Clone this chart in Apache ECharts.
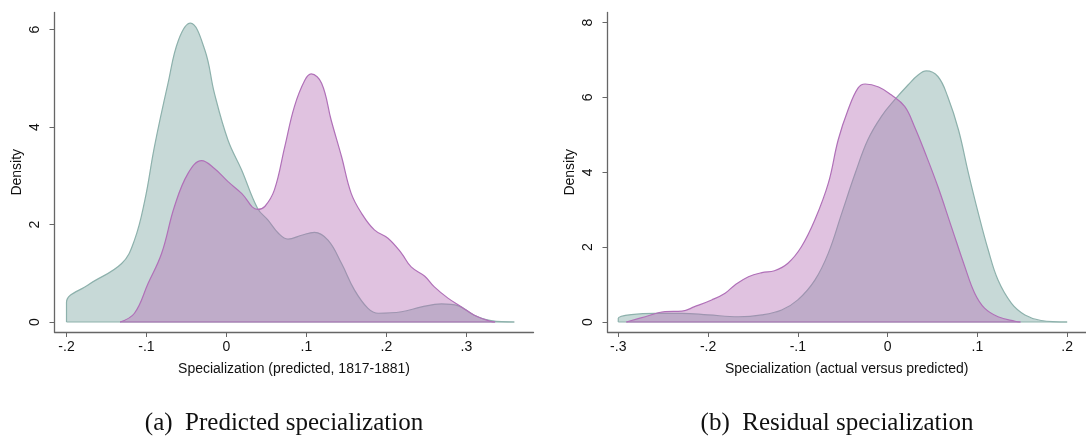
<!DOCTYPE html>
<html>
<head>
<meta charset="utf-8">
<script src="https://cdn.jsdelivr.net/npm/echarts@6/dist/echarts.min.js"></script>
<style>
html,body{margin:0;padding:0;background:#fff;}
#chart{width:1086px;height:437px;}
</style>
</head>
<body>
<div id="chart"></div>
<script>
// ---- Data ----
// Panel (a): predicted specialization, density curves [x, density]
const predTealX = [-0.2, -0.2, -0.173, -0.131, -0.115, -0.102, -0.090, -0.073, -0.060, -0.045, -0.027, -0.015, 0.002, 0.019, 0.039, 0.052, 0.065, 0.077, 0.094, 0.110, 0.127, 0.144, 0.160, 0.177, 0.190, 0.219, 0.244, 0.269, 0.290, 0.310, 0.331, 0.360];
const predTealY = [0, 0.40, 0.76, 1.20, 1.68, 2.50, 3.60, 4.90, 5.78, 6.13, 5.58, 4.69, 3.73, 3.12, 2.33, 2.09, 1.82, 1.70, 1.78, 1.84, 1.68, 1.20, 0.66, 0.28, 0.18, 0.21, 0.31, 0.37, 0.33, 0.14, 0.03, 0.0];
const predPurpleX = [-0.133, -0.115, -0.098, -0.081, -0.065, -0.048, -0.031, -0.015, 0.002, 0.019, 0.039, 0.048, 0.060, 0.073, 0.085, 0.098, 0.106, 0.119, 0.131, 0.144, 0.156, 0.169, 0.185, 0.202, 0.219, 0.231, 0.248, 0.260, 0.277, 0.294, 0.310, 0.331, 0.336];
const predPurpleY = [0, 0.18, 0.79, 1.41, 2.37, 3.05, 3.31, 3.15, 2.88, 2.64, 2.31, 2.37, 2.71, 3.60, 4.42, 4.96, 5.09, 4.90, 4.14, 3.39, 2.64, 2.23, 1.89, 1.72, 1.41, 1.13, 0.94, 0.72, 0.49, 0.31, 0.14, 0.01, 0];

// Panel (b): residual specialization
const resTealX = [-0.3, -0.3, -0.259, -0.229, -0.200, -0.166, -0.140, -0.118, -0.100, -0.081, -0.066, -0.051, -0.036, -0.022, -0.007, 0.008, 0.023, 0.034, 0.043, 0.056, 0.067, 0.079, 0.090, 0.101, 0.112, 0.123, 0.138, 0.153, 0.171, 0.200];
const resTealY = [0, 0.10, 0.23, 0.23, 0.19, 0.14, 0.19, 0.32, 0.59, 1.12, 1.84, 2.91, 3.98, 4.87, 5.49, 5.94, 6.34, 6.60, 6.71, 6.56, 6.02, 5.13, 3.98, 2.91, 1.93, 1.12, 0.50, 0.19, 0.04, 0];
const resPurpleX = [-0.291, -0.270, -0.248, -0.229, -0.215, -0.196, -0.181, -0.170, -0.155, -0.140, -0.126, -0.111, -0.096, -0.081, -0.066, -0.055, -0.044, -0.033, -0.025, -0.010, 0.004, 0.019, 0.030, 0.042, 0.056, 0.071, 0.086, 0.097, 0.108, 0.123, 0.142, 0.148];
const resPurpleY = [0, 0.14, 0.28, 0.29, 0.41, 0.59, 0.77, 0.99, 1.21, 1.32, 1.37, 1.57, 2.01, 2.73, 3.71, 4.87, 5.67, 6.25, 6.36, 6.28, 6.07, 5.76, 5.22, 4.51, 3.62, 2.55, 1.48, 0.77, 0.37, 0.14, 0.02, 0];

// Tick values and labels
const predXTicks = [-0.2, -0.1, 0, 0.1, 0.2, 0.3];
const predXLabels = ['-.2', '-.1', '0', '.1', '.2', '.3'];
const predYTicks = [0, 2, 4, 6];
const resXTicks = [-0.3, -0.2, -0.1, 0, 0.1, 0.2];
const resXLabels = ['-.3', '-.2', '-.1', '0', '.1', '.2'];
const resYTicks = [0, 2, 4, 6, 8];

const xTitleA = 'Specialization (predicted, 1817-1881)';
const xTitleB = 'Specialization (actual versus predicted)';
const yTitle = 'Density';
const captionA = '(a)  Predicted specialization';
const captionB = '(b)  Residual specialization';

// ---- Styling ----
const TEAL_LINE = '#8db1ac';
const TEAL_FILL = 'rgba(130,170,166,0.45)';
const PURP_LINE = '#b070b8';
const PURP_FILL = 'rgba(180,110,180,0.42)';
const AXIS_COL = '#666';
const FONT = 'Liberation Sans, Arial, sans-serif';

function pairs(xs, ys) { return xs.map((x, i) => [x, ys[i]]); }
function fmt(ticks, labels) {
  return v => { const i = ticks.findIndex(t => Math.abs(t - v) < 1e-9); return i >= 0 ? labels[i] : ''; };
}

function xAxisCfg(idx, min, max, ticks, labels, name) {
  return {
    type: 'value', gridIndex: idx, min: min, max: max,
    splitLine: { show: false },
    axisLine: { onZero: false, lineStyle: { color: AXIS_COL, width: 1.3 } },
    axisTick: { customValues: ticks, length: 5, lineStyle: { color: AXIS_COL } },
    axisLabel: { customValues: ticks, formatter: fmt(ticks, labels), color: '#111', fontFamily: FONT, fontSize: 14, margin: 8 },
    name: name, nameLocation: 'middle', nameGap: 30,
    nameTextStyle: { color: '#111', fontFamily: FONT, fontSize: 14 }
  };
}
function yAxisCfg(idx, min, max, ticks) {
  return {
    type: 'value', gridIndex: idx, min: min, max: max,
    splitLine: { show: false },
    axisLine: { onZero: false, show: true, lineStyle: { color: AXIS_COL, width: 1.3 } },
    axisTick: { show: true, customValues: ticks, length: 5, lineStyle: { color: AXIS_COL } },
    axisLabel: { customValues: ticks, formatter: v => String(v), rotate: 90, color: '#111', fontFamily: FONT, fontSize: 14, margin: 12 },
    name: yTitle, nameLocation: 'middle', nameGap: 30,
    nameTextStyle: { color: '#111', fontFamily: FONT, fontSize: 14 }
  };
}
function areaSeries(idx, data, line, fill, z) {
  return {
    type: 'line', xAxisIndex: idx, yAxisIndex: idx, data: data, smooth: 0.4,
    showSymbol: false, silent: true, z: z,
    lineStyle: { color: line, width: 1.2 },
    areaStyle: { color: fill, origin: 0, opacity: 1 }
  };
}
function baseSeries(idx, xs, line, z) {
  return {
    type: 'line', xAxisIndex: idx, yAxisIndex: idx,
    data: [[xs[0], 0], [xs[xs.length - 1], 0]],
    showSymbol: false, silent: true, z: z,
    lineStyle: { color: line, width: 1.2 }
  };
}

const chart = echarts.init(document.getElementById('chart'), null, { renderer: 'canvas' });
chart.setOption({
  backgroundColor: '#fff',
  animation: false,
  title: [
    { text: captionA, left: 279, top: 406, textAlign: 'center',
      textStyle: { fontFamily: 'Liberation Serif, serif', fontSize: 25, fontWeight: 'normal', color: '#111' } },
    { text: captionB, left: 832, top: 406, textAlign: 'center',
      textStyle: { fontFamily: 'Liberation Serif, serif', fontSize: 25, fontWeight: 'normal', color: '#111' } }
  ],
  grid: [
    { left: 54.5, top: 12.5, width: 479, height: 319.5 },
    { left: 607.5, top: 12.5, width: 478.5, height: 319.5 }
  ],
  xAxis: [
    xAxisCfg(0, -0.215, 0.384, predXTicks, predXLabels, xTitleA),
    xAxisCfg(1, -0.312, 0.221, resXTicks, resXLabels, xTitleB)
  ],
  yAxis: [
    yAxisCfg(0, -0.205, 6.35, predYTicks),
    yAxisCfg(1, -0.267, 8.27, resYTicks)
  ],
  series: [
    areaSeries(0, pairs(predTealX, predTealY), TEAL_LINE, TEAL_FILL, 2),
    baseSeries(0, predTealX, TEAL_LINE, 2),
    areaSeries(0, pairs(predPurpleX, predPurpleY), PURP_LINE, PURP_FILL, 3),
    baseSeries(0, predPurpleX, PURP_LINE, 3),
    areaSeries(1, pairs(resTealX, resTealY), TEAL_LINE, TEAL_FILL, 2),
    baseSeries(1, resTealX, TEAL_LINE, 2),
    areaSeries(1, pairs(resPurpleX, resPurpleY), PURP_LINE, PURP_FILL, 3),
    baseSeries(1, resPurpleX, PURP_LINE, 3)
  ]
});
</script>
</body>
</html>
